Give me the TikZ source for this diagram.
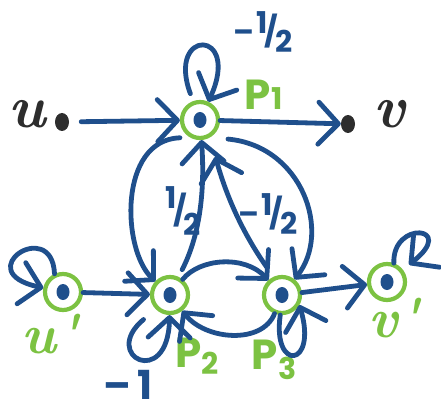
\documentclass[tikz,border=0pt]{standalone}
\usepackage{fontspec}
\setsansfont{Poppins}
\usetikzlibrary{arrows.meta,shapes.geometric}
\definecolor{inkblue}{RGB}{31,79,140}
\definecolor{inkgreen}{RGB}{124,194,66}
\definecolor{inkblack}{RGB}{45,45,45}
% slanted hand-written fraction: optional vertical offset of the two digits
\newcommand{\slfrac}[3][0.5ex]{\raisebox{#1}{#2}\kern-0.1em/\kern-0.1em\raisebox{-#1}{#3}}
\begin{document}
\begin{tikzpicture}[x=1pt,y=-1pt,
  state/.style={circle, draw=inkgreen, line width=4.2pt, minimum size=36pt, inner sep=0pt,
    path picture={\fill[inkblue] (path picture bounding box.center) ellipse (6.5pt and 8pt);}},
  term/.style={ellipse, fill=inkblack, minimum width=14pt, minimum height=18pt, inner sep=0pt},
  wire/.style={draw=inkblue, line width=4.8pt, line cap=round, line join=round,
    -{Straight Barb[length=20pt,width=42pt,round]}},
  wlabel/.style={text=inkblue, font=\sffamily\bfseries\fontsize{30}{30}\selectfont, inner sep=0pt},
  plabel/.style={text=inkgreen, font=\sffamily\bfseries\fontsize{42}{42}\selectfont, inner sep=0pt},
  vlabel/.style={font=\rmfamily\bfseries\itshape\fontsize{60}{60}\selectfont, inner sep=0pt}]
\useasboundingbox (0,0) rectangle (441,406);

% vertices
\node[state] (p1) at (200,120) {};
\node[state] (p2) at (170,295) {};
\node[state] (p3) at (282,295) {};
\node[state] (u1) at (63,292) {};
\node[state] (v1) at (387,282) {};
\node[term] (ud) at (62,122) {};
\node[term] (vd) at (348,124) {};

% vertex labels
\node[vlabel, text=inkblack] (lu) at (27,114) {u};
\node[vlabel, text=inkblack] (lv) at (389,114) {v};
\node[vlabel, text=inkgreen, font=\rmfamily\bfseries\itshape\fontsize{56}{56}\selectfont] (lu1) at (50,334) {u\kern2pt\textquotesingle};
\node[vlabel, text=inkgreen, font=\rmfamily\bfseries\itshape\fontsize{56}{56}\selectfont] (lv1) at (394,318) {v\kern2pt\textquotesingle};
\node[plabel] (lp1) at (264,95) {P\kern1pt{\fontsize{30}{30}\selectfont 1}};
\node[plabel] (lp2) at (197,356) {P\raisebox{-0.3ex}{\fontsize{30}{30}\selectfont 2}};
\node[plabel] (lp3) at (274,360) {P\raisebox{-0.4ex}{\fontsize{30}{30}\selectfont 3}};

% weights
\node[wlabel] (w1) at (263,32) {--\kern0.05em\slfrac[0.55ex]{1}{2}};
\node[wlabel] (w2) at (183,211) {\slfrac[0.8ex]{1}{2}};
\node[wlabel] (w3) at (268,214) {--\kern0.05em\slfrac[0.55ex]{1}{2}};
\node[wlabel, font=\sffamily\bfseries\fontsize{40}{40}\selectfont] (w4) at (128,385) {--\kern0.15em1};

% connectors
\draw[wire, shorten <=12pt] (ud) -- (p1);
\draw[wire] (p1) -- (vd);
\draw[wire] (u1) -- (p2);
\draw[wire] (p3) -- (v1);

\draw[wire, shorten <=10pt] (p1.-120) .. controls (118,140) and (122,250) .. (p2);
\draw[wire, shorten <=8pt] (p2.65) .. controls (200,235) and (205,190) .. (p1);
\draw[wire, shorten <=12pt, shorten >=20pt] (p3.115) .. controls (242,232) and (226,195) .. (p1.-60);
\draw[wire, shorten <=18pt] (p1.-60) .. controls (302,146) and (332,232) .. (p3);
\draw[wire] (p2) .. controls (200,258) and (245,255) .. (p3);
\draw[wire] (p3) .. controls (262,345) and (205,340) .. (p2);

% self loops
\draw[wire, shorten <=8pt] (p1.110) .. controls (166,28) and (242,28) .. (p1);
\draw[wire, shorten <=16pt] (p2.-135) .. controls (100,356) and (168,390) .. (p2);
\draw[wire] (p3.-95) .. controls (272,372) and (318,368) .. (p3.-30);
\draw[wire] (u1.115) .. controls (52,216) and (-32,272) .. (u1);
\draw[wire, shorten >=8pt] (v1.70) .. controls (392,220) and (458,226) .. (v1);
\end{tikzpicture}
\end{document}
